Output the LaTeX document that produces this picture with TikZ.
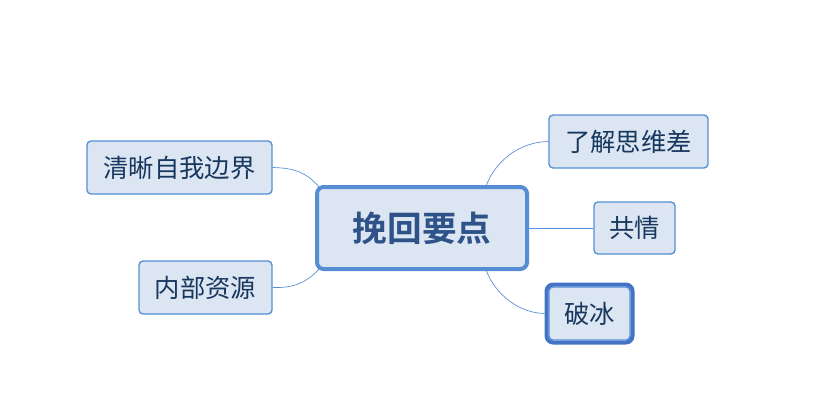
\documentclass[tikz,border=0pt]{standalone}
\usepackage{fontspec}
\newfontfamily\cjk{Noto Sans CJK SC}
\newfontfamily\cjkb{Noto Sans CJK SC Bold}
\definecolor{fillb}{HTML}{DCE6F2}
\definecolor{edge}{HTML}{558ED5}
\definecolor{txt}{HTML}{17375E}
\definecolor{mtxt}{HTML}{2F5289}
\definecolor{sel}{HTML}{4472C4}
\begin{document}
\begin{tikzpicture}[x=0.75pt,y=-0.75pt,
  box/.style={draw=edge,fill=fillb,rounded corners=3pt,line width=1pt,inner sep=0pt,text=txt,font=\cjk\fontsize{19}{22}\selectfont},
  conn/.style={draw=edge,line width=0.5pt}]
\path[use as bounding box] (0,0) rectangle (820,414);
\node[box,minimum width=159*0.75pt,minimum height=53*0.75pt] (a) at (628.5,141.5) {了解思维差};
\node[box,minimum width=81*0.75pt,minimum height=52*0.75pt] (b) at (634.5,228) {共情};
\node[draw=sel,line width=3pt,rounded corners=5pt,minimum width=86*0.75pt,minimum height=58*0.75pt] (c0) at (589.5,313.5) {};
\node[box,minimum width=81*0.75pt,minimum height=53*0.75pt] (c) at (589.5,313.5) {破冰};
\node[box,minimum width=185*0.75pt,minimum height=53*0.75pt] (d) at (179.5,167.5) {清晰自我边界};
\node[box,minimum width=133*0.75pt,minimum height=53*0.75pt] (e) at (205.5,287.5) {内部资源};
\node[box,line width=3pt,rounded corners=5pt,minimum width=210*0.75pt,minimum height=82*0.75pt,font=\cjkb\fontsize{26}{30}\selectfont,text=mtxt] (m) at (422,228) {挽回要点};
\draw[conn] (486,186) .. controls (496,160) and (520,142) .. (a.west);
\draw[conn] (m.east) -- (b.west);
\draw[conn] (486,270) .. controls (496,296) and (520,313) .. (c0.west);
\draw[conn] (320,188) .. controls (305,170) and (290,168) .. (d.east);
\draw[conn] (320,268) .. controls (305,285) and (290,288) .. (e.east);
\end{tikzpicture}
\end{document}
